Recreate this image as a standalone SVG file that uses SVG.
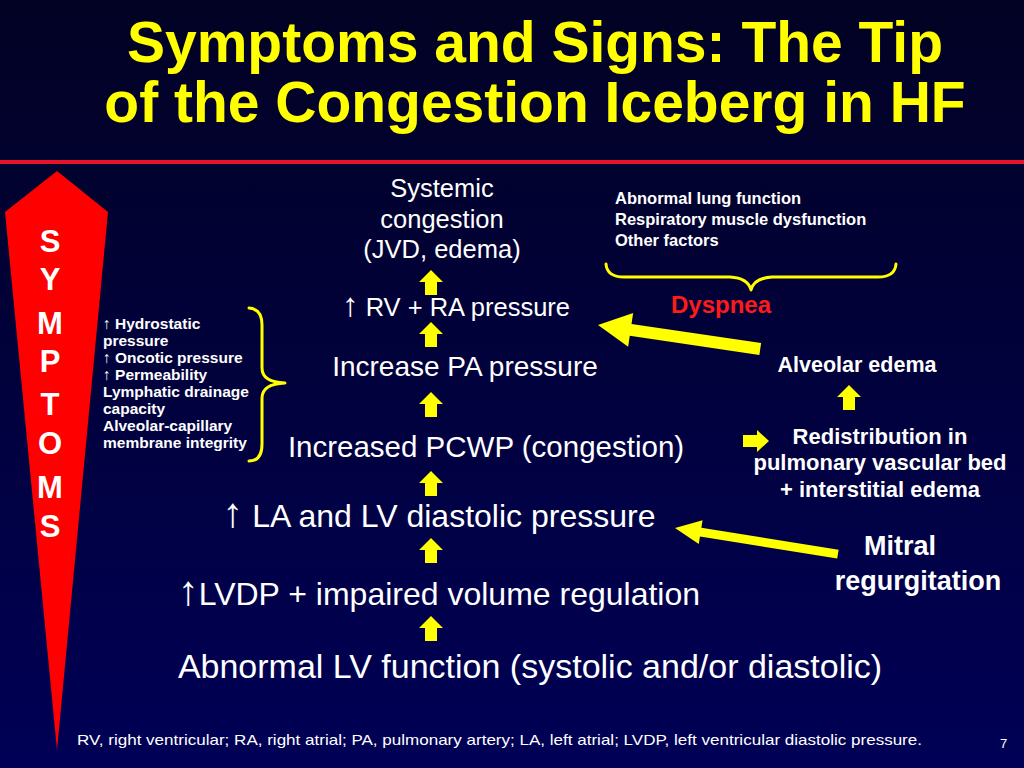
<svg xmlns="http://www.w3.org/2000/svg" width="1024" height="768" viewBox="0 0 1024 768">
<defs>
<linearGradient id="bg" x1="0" y1="0" x2="0" y2="1">
<stop offset="0" stop-color="#020224"/>
<stop offset="1" stop-color="#000056"/>
</linearGradient>
<path id="up" d="M0,0 L12,12 L6,12 L6,25 L-6,25 L-6,12 L-12,12 Z"/>
<style>
.t{font-family:"Liberation Sans",Arial,sans-serif;fill:#fff}
.b{font-weight:bold}
.c{text-anchor:middle}
.ar{font-size:130%;font-weight:normal}
.ttl{font-family:"Liberation Sans",Arial,sans-serif;font-weight:bold;fill:#ffff00;font-size:57px;text-anchor:middle}
.br{fill:none;stroke:#ffff00;stroke-width:3;stroke-linecap:round;stroke-linejoin:round}
</style>
</defs>
<rect width="1024" height="768" fill="url(#bg)"/>
<text class="ttl" x="535" y="62">Symptoms and Signs: The Tip</text>
<text class="ttl" x="535" y="122">of the Congestion Iceberg in HF</text>
<rect x="0" y="160" width="1024" height="4" fill="#e8132b"/>

<g id="symptoms">
<polygon points="57,171 108,212 57,750 5,212" fill="#ff0000"/>
<g class="t b c" font-size="31">
<text x="50" y="252">S</text>
<text x="50" y="290">Y</text>
<text x="50" y="334">M</text>
<text x="50" y="372">P</text>
<text x="50" y="415">T</text>
<text x="50" y="454">O</text>
<text x="50" y="498">M</text>
<text x="50" y="537">S</text>
</g>
</g>

<g id="systemic" class="t c" font-size="25.5">
<text x="442" y="197">Systemic</text>
<text x="442" y="228">congestion</text>
<text x="442" y="258">(JVD, edema)</text>
</g>
<g id="rvra"><text class="t c" font-size="25.5" x="456" y="316"><tspan class="ar">↑</tspan> RV + RA pressure</text></g>
<g id="pa"><text class="t c" font-size="28" x="465" y="376">Increase PA pressure</text></g>
<g id="pcwp"><text class="t c" font-size="29.5" x="486" y="457">Increased PCWP (congestion)</text></g>
<g id="lalv"><text class="t c" font-size="32" x="439" y="527"><tspan class="ar">↑</tspan> LA and LV diastolic pressure</text></g>
<g id="lvdp"><text class="t c" font-size="32" x="439" y="605"><tspan class="ar">↑</tspan>LVDP + impaired volume regulation</text></g>
<g id="lvfn"><text class="t c" font-size="34" x="530" y="678">Abnormal LV function (systolic and/or diastolic)</text></g>

<g id="factors" class="t b" font-size="15.5">
<text x="103" y="329">↑ Hydrostatic</text>
<text x="103" y="346">pressure</text>
<text x="103" y="363">↑ Oncotic pressure</text>
<text x="103" y="380">↑ Permeability</text>
<text x="103" y="397">Lymphatic drainage</text>
<text x="103" y="414">capacity</text>
<text x="103" y="431">Alveolar-capillary</text>
<text x="103" y="448">membrane integrity</text>
</g>

<g id="lung" class="t b" font-size="16.5">
<text x="615" y="204">Abnormal lung function</text>
<text x="615" y="225">Respiratory muscle dysfunction</text>
<text x="615" y="246">Other factors</text>
</g>

<g id="dyspnea"><text class="t b c" font-size="24" x="721" y="313" style="fill:#ff1a1a">Dyspnea</text></g>
<g id="alveolar"><text class="t b c" font-size="21.5" x="857" y="372">Alveolar edema</text></g>
<g id="redist" class="t b c" font-size="22">
<text x="880" y="444">Redistribution in</text>
<text x="880" y="470">pulmonary vascular bed</text>
<text x="880" y="497">+ interstitial edema</text>
</g>
<g id="mitral" class="t b c" font-size="27">
<text x="900" y="555">Mitral</text>
<text x="918" y="590">regurgitation</text>
</g>

<g id="connectors" fill="#ffff00">
<use href="#up" x="431" y="270"/>
<use href="#up" x="431" y="322"/>
<use href="#up" x="431" y="392"/>
<use href="#up" x="431" y="471"/>
<use href="#up" x="431" y="538"/>
<use href="#up" x="431" y="616"/>
<use href="#up" x="849" y="385"/>
<polygon points="743,435 757,435 757,430 769,441 757,452 757,447 743,447"/>
<polygon transform="translate(598,325) rotate(8.4)" points="0,0 33,-17 33,-6 164,-6 164,6 33,6 33,17"/>
<polygon transform="translate(675,528) rotate(9.1)" points="0,0 26,-12 26,-4.5 165,-4.5 165,4.5 26,4.5 26,12"/>
<path class="br" d="M606,264 Q607,277 624,277 L730,277 Q748,278 751,290 Q754,278 772,277 L878,277 Q895,277 896,264"/>
<path class="br" d="M249,308 Q262,309 262,325 L262,368 Q262,382 285,383 Q262,384 262,398 L262,444 Q262,461 249,461"/>
</g>

<g id="footer">
<text class="t" font-size="15" x="77" y="745" textLength="845" lengthAdjust="spacingAndGlyphs">RV, right ventricular; RA, right atrial; PA, pulmonary artery; LA, left atrial; LVDP, left ventricular diastolic pressure.</text>
<text class="t" font-size="13" x="1000" y="748">7</text>
</g>
</svg>
